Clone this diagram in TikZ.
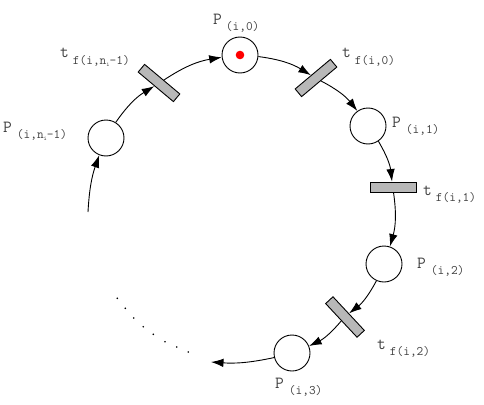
\documentclass[tikz,border=0pt]{standalone}
\usetikzlibrary{arrows.meta}
\newcommand{\mainlbl}[3]{\ttfamily\fontsize{17}{17}\selectfont #1\hspace{#2}\raisebox{-6pt}{\fontsize{13}{13}\selectfont #3}}
\newcommand{\smalli}{\raisebox{-2.5pt}{\fontsize{6}{6}\selectfont i}}
\begin{document}
\begin{tikzpicture}[x=1pt,y=-1pt,
  place/.style={circle,draw,line width=0.9pt,minimum size=36pt,inner sep=0pt},
  trans/.style={rectangle,draw,fill=black!28,line width=0.9pt,minimum width=46pt,minimum height=10pt,inner sep=0pt},
  arc/.style={-{Latex[length=12.5pt,width=8.5pt]},line width=0.9pt},
  lbl/.style={anchor=base west,inner sep=0pt,text=black!75}]
\useasboundingbox (0,0) rectangle (484,404);
% places
\node[place] (pn) at (106,138) {};
\node[place] (p0) at (240,55) {};
\node[place] (p1) at (368,126) {};
\node[place] (p2) at (384,264) {};
\node[place] (p3) at (292,353) {};
\fill[red] (p0.center) circle (4.3);
% transitions
\node[trans,rotate=-40] (tn) at (159,83) {};
\node[trans,rotate=40] (t0) at (316,78) {};
\node[trans] (t1) at (393,187) {};
\node[trans,rotate=-47] (t2) at (345,317) {};
% free ends
\coordinate (in) at (88,212);
\coordinate (out) at (211,362);
% arcs
\draw[arc] (in) to[bend left=8] (pn);
\draw[arc] (pn) to[bend left=12] (tn);
\draw[arc] (tn) to[bend left=12] (p0);
\draw[arc] (p0) to[bend left=12] (t0);
\draw[arc] (t0) to[bend left=12] (p1);
\draw[arc] (p1) to[bend left=12] (t1);
\draw[arc] (t1) to[bend left=12] (p2);
\draw[arc] (p2) to[bend left=12] (t2);
\draw[arc] (t2) to[bend left=12] (p3);
\draw[arc] (p3) to[bend left=8] (out);
% dots
\foreach \x/\y in {117.3/298.3,125.3/308.3,133.7/318,143.3/326.7,153.3/334.3,165/341.7,176.7/347,188.3/352}
  \fill (\x,\y) circle (0.9);
% labels
\node[lbl] (lp0) at (213,25) {\mainlbl{P}{4pt}{(i,0)}};
\node[lbl] (lpn) at (3,132) {\mainlbl{P}{5pt}{(i,n\smalli-1)}};
\node[lbl] (ltn) at (60,58) {\mainlbl{t}{4pt}{f(i,n\smalli-1)}};
\node[lbl] (lt0) at (342,58) {\mainlbl{t}{4pt}{f(i,0)}};
\node[lbl] (lp1) at (392,127) {\mainlbl{P}{5pt}{(i,1)}};
\node[lbl] (lt1) at (423,195) {\mainlbl{t}{4pt}{f(i,1)}};
\node[lbl] (lp2) at (417,268) {\mainlbl{P}{5pt}{(i,2)}};
\node[lbl] (lt2) at (377,349) {\mainlbl{t}{4pt}{f(i,2)}};
\node[lbl] (lp3) at (275,388) {\mainlbl{P}{5pt}{(i,3)}};
\end{tikzpicture}
\end{document}
